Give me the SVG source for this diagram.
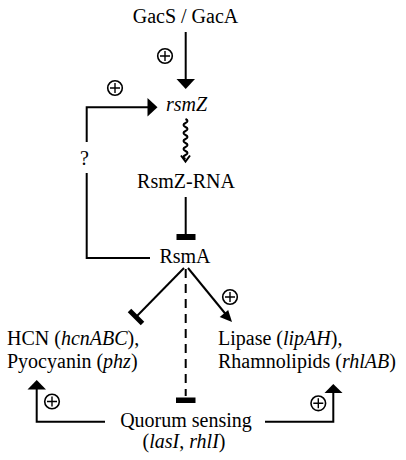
<svg xmlns="http://www.w3.org/2000/svg" width="406" height="460" viewBox="0 0 406 460">
<style>
text{font-family:"Liberation Serif","Times New Roman",serif;font-size:20px;fill:#000}
.i{font-style:italic}
.c{text-anchor:middle}
.ln{stroke:#000;stroke-width:2;fill:none}
.pl circle{fill:#fff;stroke:#000;stroke-width:1.6}
.pl path{stroke:#000;stroke-width:1.4}
.ah{fill:#000}
</style>
<defs>
<g id="plus" class="pl"><circle r="7.3"/><path d="M-5 0H5M0 -5V5"/></g>
</defs>
<rect width="406" height="460" fill="#fff"/>
<g id="connectors">
<line class="ln" x1="185.7" y1="32" x2="185.7" y2="82"/>
<polygon class="ah" points="176.5,79 195,79 185.7,89"/>
<use href="#plus" x="165" y="56"/>
<path class="ln" d="M86.7 142V107.3H149"/>
<polygon class="ah" points="147.5,98 147.5,116.6 157.5,107.3"/>
<use href="#plus" x="115" y="88"/>
<path class="ln" d="M86.7 173V258H150"/>
<path class="ln" stroke-width="2" d="M185.5 119q4 2 0 4t0 4t0 4t0 4t0 4t0 4t0 4t0 4t0 4t0 4"/>
<path class="ln" stroke-width="2" d="M181 155.5L185.5 161.5L190 155.5"/>
<line class="ln" x1="185.7" y1="197" x2="185.7" y2="236"/>
<rect x="176.5" y="234" width="19" height="6"/>
<line class="ln" x1="184" y1="268" x2="136" y2="317"/>
<line x1="129.5" y1="310.5" x2="142.5" y2="323.5" stroke="#000" stroke-width="5"/>
<line class="ln" x1="188" y1="268" x2="226" y2="314.5"/>
<polygon class="ah" points="232,322 219.7,317 228.2,310"/>
<use href="#plus" x="230" y="297"/>
<line class="ln" x1="185.7" y1="269" x2="185.7" y2="396" stroke-dasharray="9 6"/>
<rect x="176" y="397.5" width="19.5" height="5.5"/>
<path class="ln" d="M105 421.7H36.7V388"/>
<polygon class="ah" points="27.5,389.5 46,389.5 36.7,380"/>
<use href="#plus" x="52" y="401.5"/>
<path class="ln" d="M265 421.7H333.3V392"/>
<polygon class="ah" points="324.5,393 342.5,393 333.3,384"/>
<use href="#plus" x="318.3" y="403.3"/>
</g>
<g id="gacs"><text class="c" x="185.5" y="23">GacS / GacA</text></g>
<g id="rsmz"><text class="i" x="166" y="111">rsmZ</text></g>
<g id="q"><text x="80" y="165">?</text></g>
<g id="rsmzrna"><text class="c" x="186" y="188">RsmZ-RNA</text></g>
<g id="rsma"><text class="c" x="185" y="263">RsmA</text></g>
<g id="hcn"><text x="7" y="345">HCN (<tspan class="i">hcnABC</tspan>),</text><text x="7" y="368">Pyocyanin (<tspan class="i">phz</tspan>)</text></g>
<g id="lipase"><text x="218" y="345">Lipase (<tspan class="i">lipAH</tspan>),</text><text x="218" y="368">Rhamnolipids (<tspan class="i">rhlAB</tspan>)</text></g>
<g id="qs"><text class="c" x="186" y="427">Quorum sensing</text><text class="c" x="184" y="448">(<tspan class="i">lasI</tspan>, <tspan class="i">rhlI</tspan>)</text></g>
</svg>
